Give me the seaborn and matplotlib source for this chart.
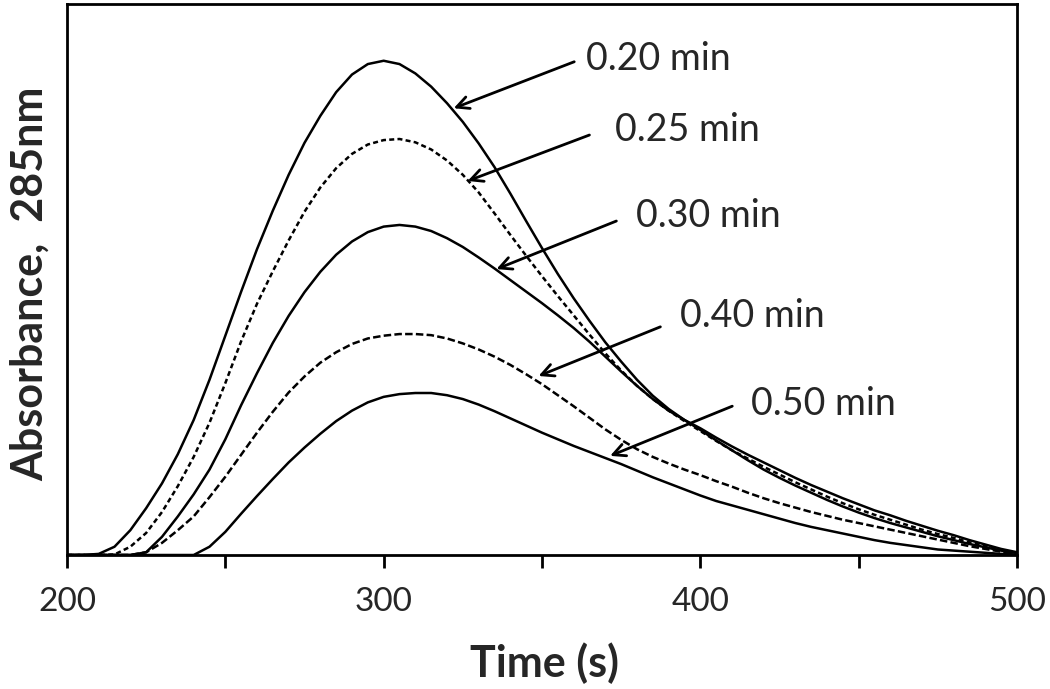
import pandas as pd
import matplotlib.pyplot as plt
import seaborn as sns

# Time axis (s), sampled every 5 s
time = [200, 205, 210, 215, 220, 225, 230, 235, 240, 245,
        250, 255, 260, 265, 270, 275, 280, 285, 290, 295,
        300, 305, 310, 315, 320, 325, 330, 335, 340, 345,
        350, 355, 360, 365, 370, 375, 380, 385, 390, 395,
        400, 405, 410, 415, 420, 425, 430, 435, 440, 445,
        450, 455, 460, 465, 470, 475, 480, 485, 490, 495, 500]

# Absorbance (arbitrary units)
abs_020 = [0, 0, 0.002, 0.015, 0.045, 0.085, 0.13, 0.183, 0.245, 0.318,
           0.398, 0.478, 0.555, 0.625, 0.69, 0.748, 0.797, 0.84, 0.872, 0.891,
           0.897, 0.891, 0.874, 0.85, 0.82, 0.786, 0.747, 0.704, 0.656, 0.606,
           0.557, 0.51, 0.466, 0.425, 0.386, 0.351, 0.318, 0.289, 0.265, 0.245,
           0.227, 0.208, 0.19, 0.172, 0.155, 0.14, 0.126, 0.113, 0.10, 0.088,
           0.077, 0.067, 0.058, 0.05, 0.042, 0.034, 0.027, 0.02, 0.014, 0.008, 0.004]
abs_025 = [0, 0, 0, 0.001, 0.015, 0.04, 0.078, 0.125, 0.178, 0.24,
           0.312, 0.388, 0.456, 0.515, 0.571, 0.623, 0.667, 0.702, 0.728, 0.745,
           0.753, 0.755, 0.749, 0.736, 0.716, 0.69, 0.658, 0.62, 0.581, 0.543,
           0.506, 0.47, 0.435, 0.4, 0.366, 0.335, 0.307, 0.283, 0.262, 0.243,
           0.225, 0.207, 0.19, 0.175, 0.16, 0.146, 0.132, 0.119, 0.106, 0.094,
           0.083, 0.073, 0.064, 0.055, 0.046, 0.038, 0.031, 0.023, 0.016, 0.009, 0.004]
abs_030 = [0, 0, 0, 0, 0, 0.005, 0.033, 0.07, 0.11, 0.155,
           0.21, 0.272, 0.33, 0.385, 0.434, 0.477, 0.514, 0.545, 0.569, 0.586,
           0.596, 0.599, 0.596, 0.588, 0.575, 0.559, 0.54, 0.52, 0.499, 0.478,
           0.457, 0.435, 0.412, 0.387, 0.36, 0.333, 0.307, 0.283, 0.262, 0.245,
           0.23, 0.213, 0.197, 0.182, 0.168, 0.154, 0.14, 0.127, 0.115, 0.103,
           0.092, 0.081, 0.072, 0.062, 0.053, 0.044, 0.036, 0.027, 0.019, 0.011, 0.005]
abs_040 = [0, 0, 0, 0, 0, 0.005, 0.022, 0.045, 0.07, 0.105,
           0.142, 0.182, 0.222, 0.26, 0.295, 0.324, 0.349, 0.368, 0.383, 0.393,
           0.398, 0.401, 0.401, 0.399, 0.393, 0.384, 0.373, 0.36, 0.345, 0.328,
           0.31, 0.29, 0.27, 0.249, 0.228, 0.209, 0.192, 0.178, 0.166, 0.155,
           0.145, 0.134, 0.124, 0.113, 0.103, 0.094, 0.086, 0.078, 0.071, 0.064,
           0.058, 0.052, 0.046, 0.04, 0.034, 0.028, 0.022, 0.016, 0.011, 0.006, 0.003]
abs_050 = [0, 0, 0, 0, 0, 0, 0, 0, 0, 0.015,
           0.042, 0.075, 0.107, 0.138, 0.168, 0.195, 0.22, 0.243, 0.262, 0.277,
           0.287, 0.292, 0.294, 0.294, 0.29, 0.283, 0.273, 0.261, 0.248, 0.235,
           0.222, 0.21, 0.198, 0.187, 0.176, 0.165, 0.153, 0.141, 0.13, 0.119,
           0.108, 0.098, 0.09, 0.082, 0.074, 0.066, 0.058, 0.051, 0.045, 0.039,
           0.033, 0.027, 0.022, 0.018, 0.014, 0.01, 0.008, 0.006, 0.004, 0.002, 0.001]

labels = ['0.20 min', '0.25 min', '0.30 min', '0.40 min', '0.50 min']
series = [abs_020, abs_025, abs_030, abs_040, abs_050]

xtick_values = [200, 250, 300, 350, 400, 450, 500]
xtick_labels = ['200', '', '300', '', '400', '', '500']

# long table for seaborn
df = pd.concat([pd.DataFrame({'Time': time, 'Absorbance': s, 'Run': lab})
                for lab, s in zip(labels, series)], ignore_index=True)

sns.set_style('white')
plt.rcParams['font.family'] = ['Lato', 'DejaVu Sans']

fig = plt.figure(figsize=(10.5, 6.89), dpi=100)
ax = fig.add_axes([67 / 1050, 1 - 555 / 689, 950 / 1050, 551 / 689])

line_dashes = {'0.20 min': '', '0.25 min': (2.0, 1.3), '0.30 min': '',
               '0.40 min': (3.0, 1.3), '0.50 min': ''}
sns.lineplot(data=df, x='Time', y='Absorbance', hue='Run', style='Run',
             palette={lab: 'black' for lab in labels}, dashes=line_dashes,
             linewidth=1.8, legend=False, ax=ax)
for ln in ax.lines:
    ln.set_solid_joinstyle('round')
    ln.set_dash_joinstyle('round')

ax.set_xlim(200, 500)
ax.set_ylim(0, 1)
ax.set_xticks(xtick_values)
ax.set_xticklabels(xtick_labels, fontsize=24)
ax.set_yticks([])
ax.set_xlabel('')
ax.set_ylabel('')
ax.tick_params(axis='x', bottom=True, direction='out', length=9, width=2, pad=14, color='black')
for sp in ax.spines.values():
    sp.set_linewidth(2)
    sp.set_color('black')

# arrow labels: (text position, arrow tail, arrow tip) in data coords
label_pos = [(363.9, 0.900), (373.0, 0.771), (379.7, 0.615), (393.6, 0.434), (416.0, 0.274)]
arrow_tail = [(361.0, 0.897), (365.8, 0.764), (374.3, 0.608), (388.2, 0.416), (410.9, 0.272)]
arrow_tip = [(321.3, 0.809), (325.7, 0.677), (334.8, 0.517), (348.1, 0.323), (370.7, 0.178)]
for lab, tp, tail, tip in zip(labels, label_pos, arrow_tail, arrow_tip):
    ax.annotate('', xy=tip, xytext=tail,
                arrowprops=dict(arrowstyle='->', color='black', lw=2, mutation_scale=22))
    ax.text(tp[0], tp[1], lab, fontsize=27, ha='left', va='center')

fig.text(545 / 1050, 1 - 663 / 689, 'Time (s)', fontsize=31, fontweight='bold',
         ha='center', va='center')
fig.text(30 / 1050, 1 - 284 / 689, 'Absorbance,  285nm', fontsize=31, fontweight='bold',
         rotation=90, ha='center', va='center')

fig.savefig('out.png', dpi=100)
